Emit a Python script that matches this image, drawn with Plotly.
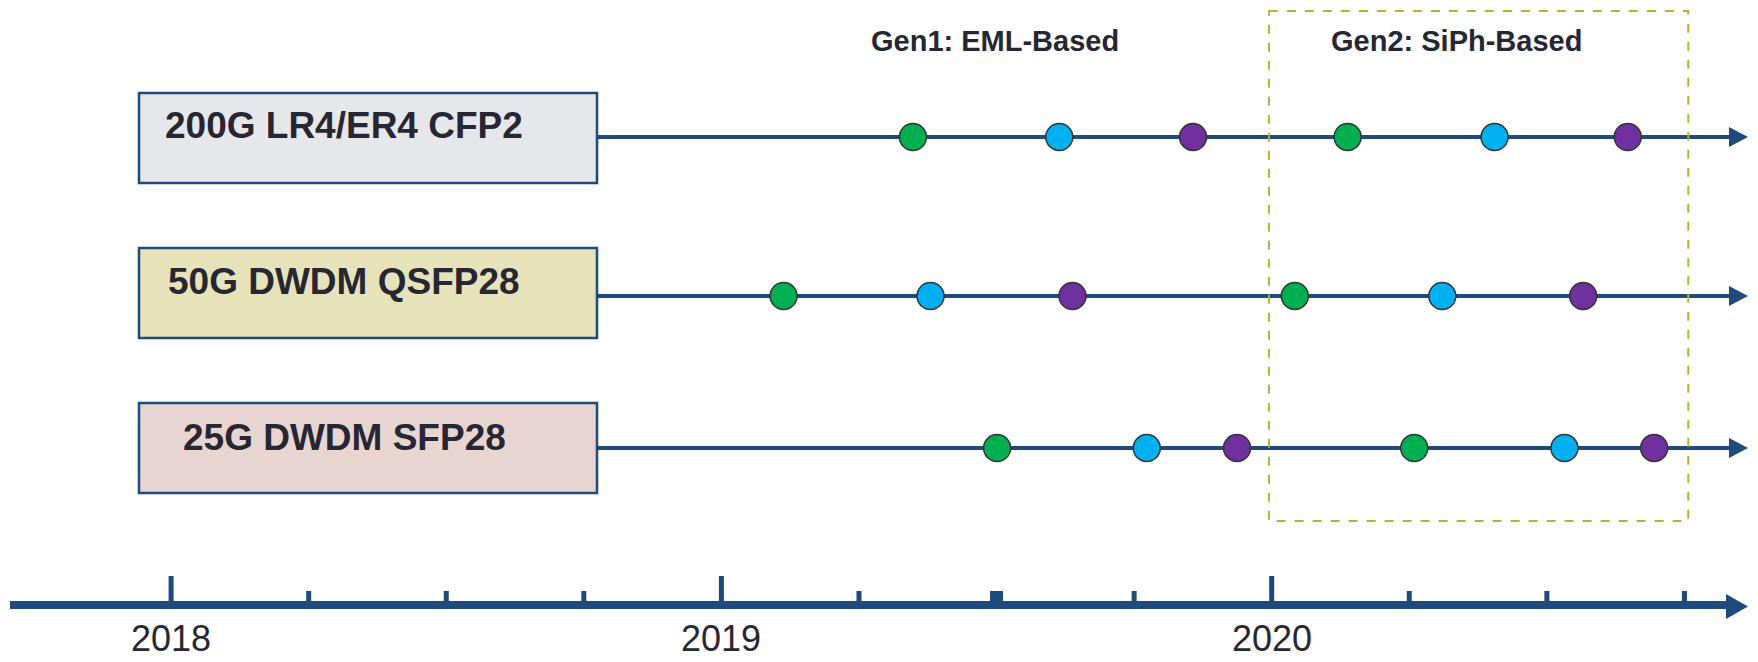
import plotly.graph_objects as go

# ---------------- data ----------------
products = ["200G LR4/ER4 CFP2", "50G DWDM QSFP28", "25G DWDM SFP28"]
box_colors = ["#E6E7EB", "#E6E3BA", "#E8D5D2"]

# milestone dates (decimal years), per product: Gen1 (3 steps) then Gen2 (3 steps)
dates_200g = [2019.348, 2019.614, 2019.857, 2020.138, 2020.405, 2020.647]
dates_50g = [2019.113, 2019.380, 2019.638, 2020.042, 2020.310, 2020.566]
dates_25g = [2019.501, 2019.773, 2019.937, 2020.259, 2020.532, 2020.695]
milestone_colors = ["#00B050", "#00B0F0", "#7030A0", "#00B050", "#00B0F0", "#7030A0"]

year_labels = ["2018", "2019", "2020"]
year_ticks = [2018, 2019, 2020]
quarter_ticks = [2018.25, 2018.5, 2018.75, 2019.25, 2019.5, 2019.75, 2020.25, 2020.5, 2020.75]

gen_labels = ["Gen1: EML-Based", "Gen2: SiPh-Based"]
gen2_span = [2019.995, 2020.757]

# ---------------- layout helpers ----------------
W, H = 1758, 662
PX0 = 171.1        # pixel of 2018.0
PPY = 550.3        # pixels per year
X_RANGE = [2018 - PX0 / PPY, 2018 + (W - PX0) / PPY]

def px(x):
    return x / W

NAVY = "#1F4A7C"
TXT = "#272733"
FONT = "Liberation Sans, Arial, sans-serif"

row_y = [137, 296, 448]
box_y = [(93, 183), (248, 338), (403, 493)]
text_y = [125, 281, 437]
box_x = (139, 597)
text_cx = 344

fig = go.Figure()
shapes = []
annotations = []

all_dates = [dates_200g, dates_50g, dates_25g]

for i, name in enumerate(products):
    y = row_y[i]
    # timeline line
    shapes.append(dict(type="line", xref="paper", yref="y", x0=px(box_x[1]), x1=px(1733),
                       y0=y, y1=y, line=dict(color=NAVY, width=4), layer="below"))
    shapes.append(dict(type="path", xref="paper", yref="y",
                       path=f"M {px(1729)},{y-10} L {px(1748)},{y} L {px(1729)},{y+10} Z",
                       fillcolor=NAVY, line=dict(color=NAVY, width=0), layer="below"))
    # box
    shapes.append(dict(type="rect", xref="paper", yref="y", x0=px(box_x[0]), x1=px(box_x[1]),
                       y0=box_y[i][0], y1=box_y[i][1], fillcolor=box_colors[i],
                       line=dict(color=NAVY, width=2.5), layer="below"))
    annotations.append(dict(xref="paper", yref="y", x=px(text_cx), y=text_y[i], text=f"<b>{name}</b>",
                            showarrow=False, xanchor="center", yanchor="middle",
                            font=dict(family=FONT, size=37, color=TXT)))
    fig.add_trace(go.Scatter(
        x=all_dates[i], y=[y] * len(all_dates[i]), mode="markers", name=name,
        marker=dict(size=27, color=milestone_colors, line=dict(color="#333333", width=1.5)),
        showlegend=False, hoverinfo="x+name"))

# Gen2 dashed region
shapes.append(dict(type="rect", xref="x", yref="y", x0=gen2_span[0], x1=gen2_span[1], y0=11, y1=521,
                   line=dict(color="#B3B23C", width=2, dash="dash"), fillcolor="rgba(0,0,0,0)",
                   layer="below"))
gen_x = [995, 1456]
for lab, gx in zip(gen_labels, gen_x):
    annotations.append(dict(xref="paper", yref="y", x=px(gx), y=41, text=f"<b>{lab}</b>",
                            showarrow=False, xanchor="center", yanchor="middle",
                            font=dict(family=FONT, size=29, color=TXT)))

# Time axis
AY = 605
shapes.append(dict(type="line", xref="paper", yref="y", x0=px(10), x1=px(1730), y0=AY, y1=AY,
                   line=dict(color=NAVY, width=8), layer="below"))
shapes.append(dict(type="path", xref="paper", yref="y",
                   path=f"M {px(1726)},{594} L {px(1748)},{606.5} L {px(1726)},{619} Z",
                   fillcolor=NAVY, line=dict(color=NAVY, width=0), layer="below"))
for t in year_ticks:
    shapes.append(dict(type="line", xref="x", yref="y", x0=t, x1=t, y0=576, y1=602,
                       line=dict(color=NAVY, width=5), layer="below"))
for t in quarter_ticks:
    w = 13 if t == 2019.5 else 5
    shapes.append(dict(type="line", xref="x", yref="y", x0=t, x1=t, y0=591, y1=602,
                       line=dict(color=NAVY, width=w), layer="below"))
for lab, t in zip(year_labels, year_ticks):
    annotations.append(dict(xref="x", yref="y", x=t, y=638, text=lab, showarrow=False,
                            xanchor="center", yanchor="middle", borderpad=0,
                            font=dict(family=FONT, size=36, color=TXT)))

fig.update_layout(
    width=W, height=H,
    margin=dict(l=0, r=0, t=0, b=0),
    paper_bgcolor="white", plot_bgcolor="rgba(0,0,0,0)",
    xaxis=dict(range=X_RANGE, visible=False, fixedrange=True),
    yaxis=dict(range=[H, 0], visible=False, fixedrange=True),
    shapes=shapes, annotations=annotations,
    showlegend=False,
)

fig.write_html("out.html", config={"displayModeBar": False},
               post_script="document.body.style.margin='0';document.body.style.overflow='hidden';")
